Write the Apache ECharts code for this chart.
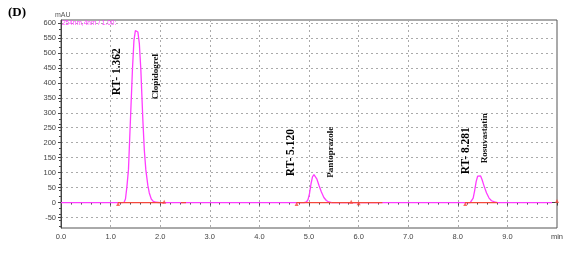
<!DOCTYPE html>
<html><head><meta charset="utf-8">
<script src="https://cdn.jsdelivr.net/npm/echarts@6/dist/echarts.min.js"></script>
<style>html,body{margin:0;padding:0;background:#fff}#c{width:578px;height:255px}</style>
</head><body><div id="c"></div>
<script>
// ---- data ----
const signalTime = [0, 1.20, 1.27, 1.30, 1.33, 1.36, 1.40, 1.44, 1.47, 1.50, 1.52, 1.55, 1.58, 1.61, 1.65, 1.68, 1.71, 1.75, 1.78, 1.82, 1.86, 1.92, 2.00,
  4.90, 4.95, 4.98, 5.01, 5.04, 5.07, 5.10, 5.13, 5.16, 5.20, 5.25, 5.30, 5.35, 5.40, 5.46,
  8.25, 8.28, 8.31, 8.34, 8.37, 8.40, 8.43, 8.46, 8.49, 8.53, 8.58, 8.63, 8.68, 8.74, 8.80, 9.90];
const signalValue = [0, 0, 0.5, 12, 55, 110, 277, 443, 540, 575, 578, 570, 530, 443, 277, 175, 110, 58, 32, 12, 4, 1, 0,
  0, 2, 10, 30, 62, 86, 93, 90, 78, 58, 35, 17, 7, 2, 0,
  0, 3, 15, 40, 70, 88, 93, 89, 76, 55, 32, 15, 6, 2, 0, 0];

// integration baselines: [start, end]
const baselineSegments = [[1.15, 2.08], [2.42, 2.52], [4.75, 5.45], [5.45, 6.48], [8.15, 8.80]];
// integration event markers: [time, value]
const eventMarks = [[1.15, -5], [2.08, 3], [4.75, -5], [5.85, 3], [6.0, -2], [8.15, -5], [10.0, 5]];

const yTicks = [-50, 0, 50, 100, 150, 200, 250, 300, 350, 400, 450, 500, 550, 600];
const peakNames = ['Clopidogrel', 'Pantoprazole', 'Rosuvastatin'];
const retentionLabels = ['RT- 1.362', 'RT- 5.120', 'RT- 8.281'];
// ---------------------------------------

const retentionPos = [[1.12, 437], [4.63, 167], [8.16, 173]];
const namePos = [[1.915, 421], [5.44, 168], [8.55, 215]];

const magenta = '#ff3cff';
const red = '#f5483c';

const series = [{
  type: 'line', data: signalTime.map((t, i) => [t, signalValue[i]]),
  symbol: 'none', lineStyle: {color: magenta, width: 1.3}, z: 3, animation: false
}];
baselineSegments.forEach(s => series.push({
  type: 'line', data: [[s[0], 0], [s[1], 0]], symbol: 'none',
  lineStyle: {color: red, width: 1.2}, z: 4, animation: false
}));
series.push({
  type: 'scatter', data: eventMarks, symbol: 'triangle', symbolSize: 4,
  itemStyle: {color: red}, z: 5, animation: false
});

const chart = echarts.init(document.getElementById('c'), null, {renderer: 'canvas'});
const axisFont = {fontFamily: 'Liberation Sans', fontSize: 7.5, color: '#444'};
chart.setOption({
  animation: false,
  grid: {left: 61, right: 21, top: 20, bottom: 27, show: true, borderColor: '#555', borderWidth: 1},
  xAxis: {
    type: 'value', min: 0, max: 10, interval: 1,
    axisLine: {lineStyle: {color: '#444'}},
    axisTick: {show: true, length: 3, lineStyle: {color: '#444'}},
    minorTick: {show: true, splitNumber: 5, length: 2, lineStyle: {color: '#444'}},
    axisLabel: Object.assign({margin: 5, formatter: v => v === 10 ? 'min' : v.toFixed(1)}, axisFont),
    splitLine: {show: true, lineStyle: {color: '#aaa', type: [2, 3], width: 1}}
  },
  yAxis: {
    type: 'value', min: -85, max: 610,
    axisLine: {show: true, lineStyle: {color: '#444'}},
    axisTick: {show: true, length: 3, customValues: yTicks, lineStyle: {color: '#444'}},
    minorTick: {show: true, splitNumber: 5, length: 2, lineStyle: {color: '#444'}},
    axisLabel: Object.assign({margin: 5, customValues: yTicks}, axisFont),
    splitLine: {show: true, lineStyle: {color: '#aaa', type: [2, 3], width: 1}}
  },
  series: series
});

function px(p) { return chart.convertToPixel({gridIndex: 0}, p); }
const graphics = [
  {type: 'text', left: 8, top: 6, style: {text: '(D)', font: 'bold 13px "Liberation Serif"', fill: '#000'}},
  {type: 'text', left: 55, top: 12, style: {text: 'mAU', font: '7px "Liberation Sans"', fill: '#555'}},
  {type: 'text', left: 62, top: 20, style: {text: '254nm,4nm / 1.00:', font: '6.5px "Liberation Sans"', fill: magenta}}
];
retentionLabels.forEach((t, i) => {
  const p = px(retentionPos[i]);
  graphics.push({type: 'text', x: p[0], y: p[1], rotation: Math.PI / 2,
    style: {text: t, font: 'bold 11.5px "Liberation Serif"', fill: '#000', align: 'center', verticalAlign: 'middle'}});
});
peakNames.forEach((t, i) => {
  const p = px(namePos[i]);
  graphics.push({type: 'text', x: p[0], y: p[1], rotation: Math.PI / 2,
    style: {text: t, font: 'bold 9px "Liberation Serif"', fill: '#111', align: 'center', verticalAlign: 'middle'}});
});
chart.setOption({graphic: graphics});
</script>
</body></html>
